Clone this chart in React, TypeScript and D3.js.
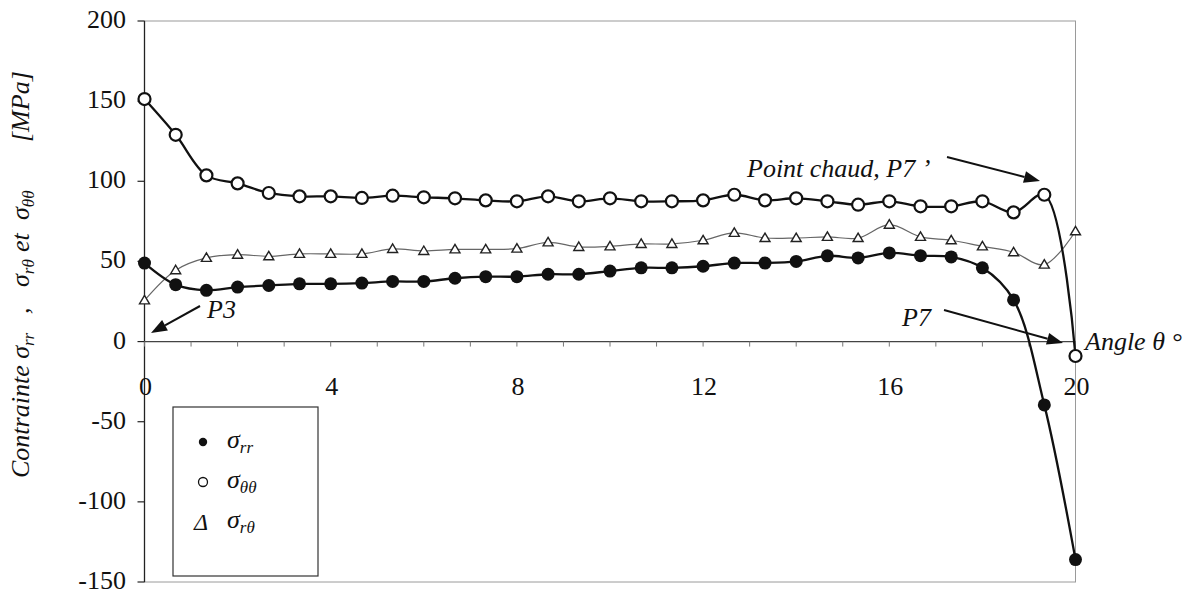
import React from 'react';
import * as d3 from 'd3';

const angles = [0, 0.67, 1.33, 2, 2.67, 3.33, 4, 4.67, 5.33, 6, 6.67, 7.33, 8, 8.67, 9.33, 10, 10.67, 11.33, 12, 12.67, 13.33, 14, 14.67, 15.33, 16, 16.67, 17.33, 18, 18.67, 19.33, 20];
const sigmaRR = [49, 35.5, 32, 34, 35, 36, 36, 36.5, 37.5, 37.5, 39.5, 40.5, 40.5, 42, 42, 44, 46, 46, 47, 49, 49, 50, 53.5, 52.2, 55.3, 53.6, 52.8, 46, 26, -39.5, -136];
const sigmaTT = [151.3, 129, 103.7, 98.7, 92.7, 90.6, 90.6, 89.6, 91, 90, 89.4, 88.1, 87.5, 90.6, 87.5, 89.4, 87.5, 87.5, 88.1, 91.6, 88.1, 89.4, 87.5, 85.4, 87.5, 84.4, 84.4, 87.5, 80.6, 91.6, -9];
const sigmaRT = [25.7, 44.5, 52.2, 54.2, 53.2, 54.7, 54.7, 54.7, 57.8, 56.5, 57.5, 57.5, 58, 61.9, 59, 59.4, 60.9, 60.9, 63.2, 67.8, 64.6, 64.6, 65.3, 64.6, 72.9, 65.3, 63.2, 59.4, 55.7, 48, 68.8];
const yTicks = [200, 150, 100, 50, 0, -50, -100, -150];
const xTickLabels = [0, 4, 8, 12, 16, 20];
const xMinorTicks = d3.range(0, 21, 1);

const fontName = 'Liberation Serif';
const ts = (size: number, italic = false): React.CSSProperties => ({
  fontFamily: `"${fontName}"`,
  fontSize: size,
  fontStyle: italic ? 'italic' : 'normal',
});

function T(props: { x?: number; y?: number; size: number; italic?: boolean; anchor?: string; transform?: string; children: React.ReactNode }) {
  const { x, y, size, italic, anchor, transform, children } = props;
  return (
    <text x={x} y={y} transform={transform} textAnchor={anchor || 'start'} fontFamily={fontName} fontSize={size}
      fontStyle={italic ? 'italic' : 'normal'} style={ts(size, !!italic)} fill="#111">
      {children}
    </text>
  );
}

function Arrow({ x1, y1, x2, y2 }: { x1: number; y1: number; x2: number; y2: number }) {
  const ang = Math.atan2(y2 - y1, x2 - x1);
  const len = 16, half = 6;
  const bx = x2 - len * Math.cos(ang), by = y2 - len * Math.sin(ang);
  const px = -Math.sin(ang) * half, py = Math.cos(ang) * half;
  return (
    <g>
      <line x1={x1} y1={y1} x2={bx} y2={by} stroke="#111" strokeWidth={2} />
      <polygon points={`${x2},${y2} ${bx + px},${by + py} ${bx - px},${by - py}`} fill="#111" />
    </g>
  );
}

export default function App() {
  const W = 1204, H = 592;
  const x = d3.scaleLinear().domain([0, 20]).range([144.5, 1075.5]);
  const y = d3.scaleLinear().domain([-150, 200]).range([582, 21]);
  const line = d3.line<number>()
    .x((_, i) => x(angles[i]))
    .y((d) => y(d))
    .curve(d3.curveCatmullRom.alpha(0.5));

  const tri = (cx: number, cy: number) => `${cx},${cy - 5} ${cx + 5},${cy + 3.5} ${cx - 5},${cy + 3.5}`;
  const sub = (s: string) => <tspan style={ts(17, true)} fontSize={17} dy={5}>{s}</tspan>;

  return (
    <svg width={W} height={H} style={{ position: 'absolute', left: 0, top: 0, background: '#fff' }}>
      <rect x={0} y={0} width={W} height={H} fill="#fff" />
      {/* frame */}
      <rect x={x(0)} y={y(200)} width={x(20) - x(0)} height={y(-150) - y(200)} fill="none" stroke="#9a9a9a" strokeWidth={1} />
      {/* y axis */}
      <line x1={x(0)} y1={y(200)} x2={x(0)} y2={y(-150)} stroke="#222" strokeWidth={1.3} />
      {yTicks.map((t) => (
        <g key={t}>
          <line x1={x(0) - 7} x2={x(0)} y1={y(t)} y2={y(t)} stroke="#222" strokeWidth={1.2} />
          <T x={126} y={y(t) + 7} anchor="end" size={26}>{String(t)}</T>
        </g>
      ))}
      {/* x axis at zero */}
      <line x1={x(0)} y1={y(0)} x2={x(20)} y2={y(0)} stroke="#444" strokeWidth={1.2} />
      {xMinorTicks.map((t) => (
        <line key={t} x1={x(t)} x2={x(t)} y1={y(0)} y2={y(0) + 5} stroke="#777" strokeWidth={1} />
      ))}
      {xTickLabels.map((t) => (
        <T key={t} x={x(t) + 1} y={395} anchor="middle" size={26}>{String(t)}</T>
      ))}

      {/* sigma r theta */}
      <path d={line(sigmaRT) || ''} fill="none" stroke="#666" strokeWidth={1.2} />
      {sigmaRT.map((v, i) => (
        <polygon key={i} points={tri(x(angles[i]), y(v))} fill="#fff" stroke="#222" strokeWidth={1.4} />
      ))}
      {/* sigma rr */}
      <path d={line(sigmaRR) || ''} fill="none" stroke="#111" strokeWidth={2.3} />
      {sigmaRR.map((v, i) => (
        <circle key={i} cx={x(angles[i])} cy={y(v)} r={6.5} fill="#111" />
      ))}
      {/* sigma theta theta */}
      <path d={line(sigmaTT) || ''} fill="none" stroke="#111" strokeWidth={2.3} />
      {sigmaTT.map((v, i) => (
        <circle key={i} cx={x(angles[i])} cy={y(v)} r={6} fill="#fff" stroke="#111" strokeWidth={2.2} />
      ))}

      {/* y axis title */}
      <T transform="translate(29,478) rotate(-90)" size={26} italic>
        <tspan x={0} y={0}>Contrainte σ</tspan>
        {sub('rr')}
        <tspan x={164} y={0}>,</tspan>
        <tspan x={191} y={0}>σ</tspan>
        {sub('rθ')}
        <tspan x={226} y={0}>et</tspan>
        <tspan x={258} y={0}>σ</tspan>
        {sub('θθ')}
        <tspan x={336} y={0}>[MPa]</tspan>
      </T>

      {/* legend */}
      <rect x={173} y={407} width={145} height={169} fill="#fff" stroke="#333" strokeWidth={1.2} />
      <circle cx={203} cy={442} r={4.2} fill="#111" />
      <T x={227} y={448} size={26} italic>σ{sub('rr')}</T>
      <circle cx={203} cy={482} r={4.5} fill="#fff" stroke="#111" strokeWidth={1.3} />
      <T x={227} y={488} size={26} italic>σ{sub('θθ')}</T>
      <T x={194} y={530} size={24} italic>Δ</T>
      <T x={227} y={528} size={26} italic>σ{sub('rθ')}</T>

      {/* annotations */}
      <T x={207} y={318} size={26} italic>P3</T>
      <Arrow x1={200} y1={306} x2={151} y2={333} />
      <T x={747} y={177} size={26} italic>Point chaud, P7 ’</T>
      <Arrow x1={947} y1={157} x2={1040} y2={181} />
      <T x={902} y={326} size={26} italic>P7</T>
      <Arrow x1={944} y1={310} x2={1063} y2={343} />
      <T x={1085} y={350} size={26} italic>Angle θ °</T>
    </svg>
  );
}
